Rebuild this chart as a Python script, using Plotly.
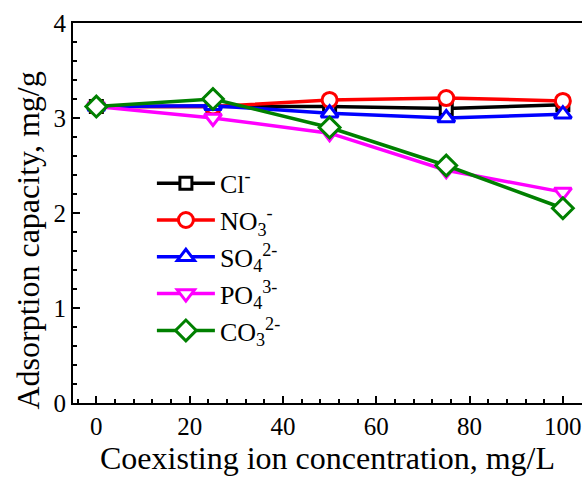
import plotly.graph_objects as go

x = [0, 25, 50, 75, 100]
cl = [3.12, 3.12, 3.12, 3.10, 3.14]
no3 = [3.12, 3.12, 3.19, 3.21, 3.18]
so4 = [3.12, 3.13, 3.05, 3.00, 3.04]
po4 = [3.12, 3.00, 2.84, 2.45, 2.22]
co3 = [3.12, 3.20, 2.90, 2.50, 2.05]

names = ["Cl<sup>-</sup>", "NO<sub>3</sub><sup>-</sup>", "SO<sub>4</sub><sup>2-</sup>",
         "PO<sub>4</sub><sup>3-</sup>", "CO<sub>3</sub><sup>2-</sup>"]
series = [cl, no3, so4, po4, co3]
colors = ["black", "red", "blue", "magenta", "green"]
symbols = ["square", "circle", "triangle-up", "triangle-down", "diamond"]
sizes = [12, 15, 15, 15, 16]

FONT = "Liberation Serif, Times New Roman, serif"

fig = go.Figure()
for name, ys, c, s, sz in zip(names, series, colors, symbols, sizes):
    fig.add_trace(go.Scatter(
        x=x, y=ys, name=name, mode="lines+markers",
        line=dict(color=c, width=3.5),
        marker=dict(symbol=s, size=sz, color="white", line=dict(color=c, width=3)),
    ))

fig.update_layout(
    width=582, height=477,
    margin=dict(l=73, r=0, t=23, b=74),
    paper_bgcolor="white", plot_bgcolor="white",
    font=dict(family=FONT, size=25, color="black"),
    showlegend=True,
    legend=dict(x=0.155, y=0.64, xanchor="left", yanchor="top",
                font=dict(family=FONT, size=26, color="black"),
                itemwidth=58, tracegroupgap=0, bgcolor="rgba(0,0,0,0)"),
    xaxis=dict(range=[-5, 104.1], showline=True, linecolor="black", linewidth=2,
               mirror=True, ticks="inside", ticklen=7, tickwidth=2, tickcolor="black",
               tickvals=[0, 20, 40, 60, 80, 100], showgrid=False, zeroline=False,
               minor=dict(ticks="inside", ticklen=4, tickwidth=2, tickcolor="black", dtick=4, tick0=0),
               tickfont=dict(size=25),
               title=dict(text="Coexisting ion concentration, mg/L", font=dict(size=32), standoff=6)),
    yaxis=dict(range=[0, 4], showline=True, linecolor="black", linewidth=2,
               ticks="inside", ticklen=7, tickwidth=2, tickcolor="black",
               tickvals=[0, 1, 2, 3, 4], showgrid=False, zeroline=False,
               minor=dict(ticks="inside", ticklen=4, tickwidth=2, tickcolor="black", dtick=0.2, tick0=0),
               tickfont=dict(size=25)),
    annotations=[dict(text="Adsorption capacity, mg/g", textangle=-90,
                      xref="paper", yref="paper", x=-0.088, y=0.428,
                      xanchor="center", yanchor="middle", showarrow=False,
                      font=dict(family=FONT, size=32, color="black"))],
)

fig.write_html("out.html")
